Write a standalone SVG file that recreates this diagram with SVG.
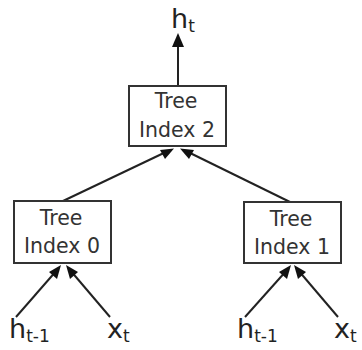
<svg xmlns="http://www.w3.org/2000/svg" width="362" height="350" viewBox="0 0 362 350">
<defs>
<style>
.box{fill:#fff;stroke:#333;stroke-width:2}
.lbl{font-family:"DejaVu Sans",sans-serif;font-size:20.5px;fill:#333;text-anchor:middle}
.var{font-family:"DejaVu Sans",sans-serif;font-size:27px;fill:#222}
.sub{font-size:17px}
.ln{stroke:#222;stroke-width:2;fill:none}
</style>
</defs>
<rect width="362" height="350" fill="#fff"/>
<g id="connectors">
<line class="ln" x1="178" y1="86" x2="178" y2="40"/>
<path d="M178,33 L172,47 L184,47 Z" fill="#111"/>
<line class="ln" x1="63" y1="201" x2="168" y2="151"/>
<path d="M174,148.5 L160,150 L165,159 Z" fill="#111"/>
<line class="ln" x1="290" y1="202" x2="186" y2="151"/>
<path d="M180,148.5 L189,159 L194,150 Z" fill="#111"/>
<line class="ln" x1="16" y1="317" x2="57" y2="270"/>
<path d="M61,265 L49,272 L57,279 Z" fill="#111"/>
<line class="ln" x1="110" y1="317" x2="70" y2="270"/>
<path d="M66,265 L70,279 L78,272 Z" fill="#111"/>
<line class="ln" x1="245" y1="317" x2="287" y2="270"/>
<path d="M291,265 L279,272 L287,279 Z" fill="#111"/>
<line class="ln" x1="338" y1="317" x2="298" y2="270"/>
<path d="M294,265 L298,279 L306,272 Z" fill="#111"/>
</g>
<g id="node-tree2">
<rect class="box" x="129" y="86" width="97" height="60"/>
<text class="lbl" x="176" y="108">Tree</text>
<text class="lbl" x="177" y="137">Index 2</text>
</g>
<g id="node-tree0">
<rect class="box" x="14" y="201" width="97" height="62"/>
<text class="lbl" x="61" y="225">Tree</text>
<text class="lbl" x="62" y="253">Index 0</text>
</g>
<g id="node-tree1">
<rect class="box" x="244" y="202" width="97" height="61"/>
<text class="lbl" x="291" y="226">Tree</text>
<text class="lbl" x="292" y="254">Index 1</text>
</g>
<g id="node-ht">
<text class="var" x="171" y="28">h<tspan class="sub" dy="4">t</tspan></text>
</g>
<g id="node-h0">
<text class="var" x="9" y="338">h<tspan class="sub" dy="4">t-1</tspan></text>
</g>
<g id="node-x0">
<text class="var" x="107" y="338">x<tspan class="sub" dy="4">t</tspan></text>
</g>
<g id="node-h1">
<text class="var" x="237" y="338">h<tspan class="sub" dy="4">t-1</tspan></text>
</g>
<g id="node-x1">
<text class="var" x="334" y="338">x<tspan class="sub" dy="4">t</tspan></text>
</g>
</svg>
